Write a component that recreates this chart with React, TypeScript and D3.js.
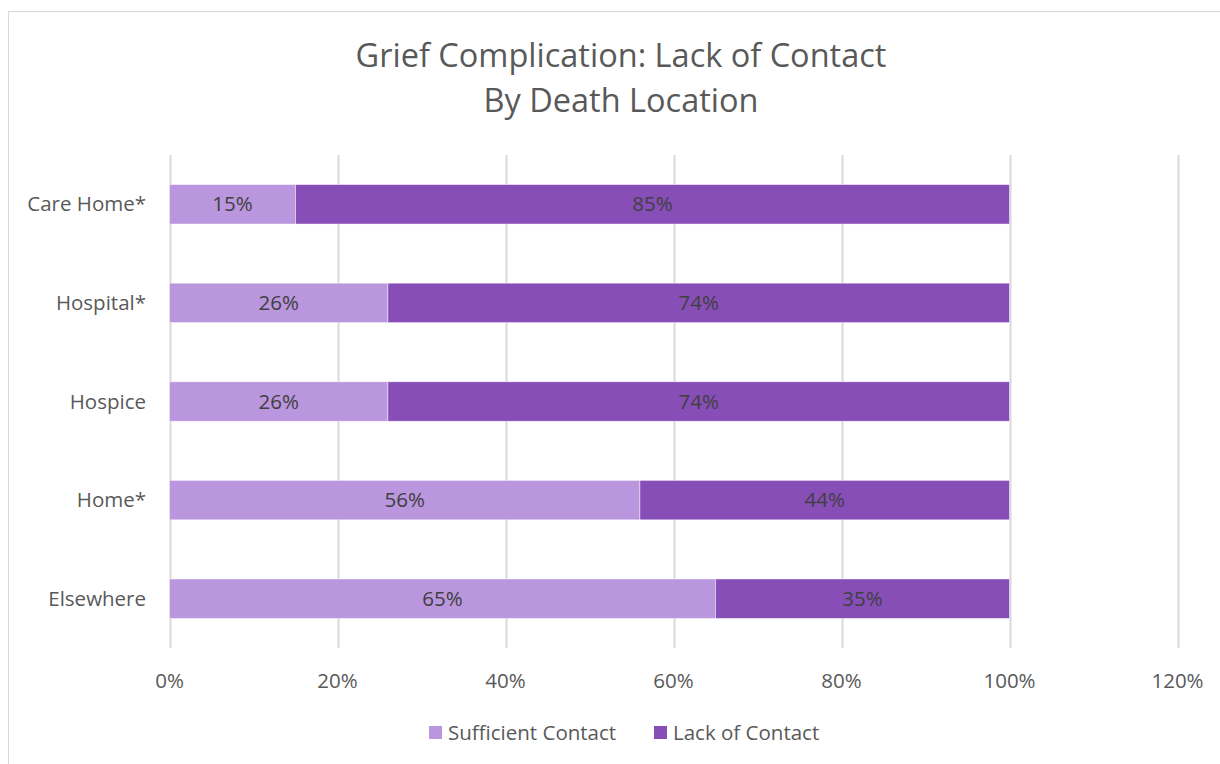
import React, { useEffect, useRef } from "react";
import * as d3 from "d3";

const categories = ["Care Home*", "Hospital*", "Hospice", "Home*", "Elsewhere"];
const sufficientContact = [15, 26, 26, 56, 65];
const lackOfContact = [85, 74, 74, 44, 35];
const seriesNames = ["Sufficient Contact", "Lack of Contact"];
const seriesColors = ["#B996DD", "#874EB8"];
const xTicks = [0, 20, 40, 60, 80, 100, 120];
const titleLines = ["Grief Complication: Lack of Contact", "By Death Location"];

const W = 1220;
const H = 764;
const FONT = "'Open Sans', 'Noto Sans', sans-serif";
const FS = 20.5;

export default function App() {
  const ref = useRef<SVGSVGElement | null>(null);

  useEffect(() => {
    const svg = d3.select(ref.current);
    svg.selectAll("*").remove();

    // chart area border
    svg.append("rect")
      .attr("x", 8.5).attr("y", 11.5)
      .attr("width", W + 20).attr("height", H + 20)
      .attr("fill", "#fff").attr("stroke", "#D9D9D9").attr("stroke-width", 1);

    const left = 169.5, right = 1177.5, top = 155, bottom = 648;
    const x = d3.scaleLinear().domain([0, 120]).range([left, right]);
    const y = d3.scaleBand<string>().domain(categories).range([top, bottom]).paddingInner(0.6).paddingOuter(0.3);

    // title
    const title = svg.append("text").attr("text-anchor", "middle").attr("font-family", FONT)
      .attr("font-size", 32.5).attr("fill", "#595959");
    titleLines.forEach((t, i) => {
      title.append("tspan").attr("x", 621).attr("y", 67 + i * 45).text(t);
    });

    // gridlines
    svg.append("g").selectAll("line").data(xTicks).join("line")
      .attr("x1", (d) => Math.round(x(d)) + 0.5).attr("x2", (d) => Math.round(x(d)) + 0.5)
      .attr("y1", top).attr("y2", bottom)
      .attr("stroke", "#D9D9D9").attr("stroke-width", 2);

    // tick labels
    svg.append("g").selectAll("text").data(xTicks).join("text")
      .attr("x", (d) => x(d)).attr("y", 688)
      .attr("text-anchor", "middle").attr("font-family", FONT).attr("font-size", FS)
      .attr("fill", "#595959").text((d) => d + "%");

    // category labels
    svg.append("g").selectAll("text").data(categories).join("text")
      .attr("x", 146).attr("y", (d) => (y(d) as number) + y.bandwidth() / 2)
      .attr("dy", "0.35em")
      .attr("text-anchor", "end").attr("font-family", FONT).attr("font-size", FS)
      .attr("fill", "#595959").text((d) => d);

    const stackData = categories.map((c, i) => ({ cat: c, s: sufficientContact[i], l: lackOfContact[i] }));
    const stack = d3.stack<any>().keys(["s", "l"])(stackData);

    stack.forEach((layer, si) => {
      const g = svg.append("g");
      g.selectAll("rect").data(layer).join("rect")
        .attr("x", (d) => x(d[0])).attr("width", (d) => x(d[1]) - x(d[0]))
        .attr("y", (d) => y(d.data.cat) as number).attr("height", y.bandwidth())
        .attr("fill", seriesColors[si]).attr("stroke", "#fff").attr("stroke-width", 0.75).attr("stroke-opacity", 0.6);
      g.selectAll("text").data(layer).join("text")
        .attr("x", (d) => (x(d[0]) + x(d[1])) / 2)
        .attr("y", (d) => (y(d.data.cat) as number) + y.bandwidth() / 2)
        .attr("dy", "0.35em").attr("text-anchor", "middle")
        .attr("font-family", FONT).attr("font-size", FS).attr("fill", "#404040")
        .text((d) => (d[1] - d[0]) + "%");
    });

    // legend
    const legend = svg.append("g").attr("font-family", FONT).attr("font-size", FS).attr("fill", "#595959");
    const legendX = [429, 654];
    seriesNames.forEach((n, i) => {
      legend.append("rect").attr("x", legendX[i]).attr("y", 726).attr("width", 13).attr("height", 13).attr("fill", seriesColors[i]);
      legend.append("text").attr("x", legendX[i] + 19).attr("y", 740).text(n);
    });
  }, []);

  return (
    <svg ref={ref} width={W} height={H} style={{ position: "absolute", left: 0, top: 0, background: "#fff" }} />
  );
}
